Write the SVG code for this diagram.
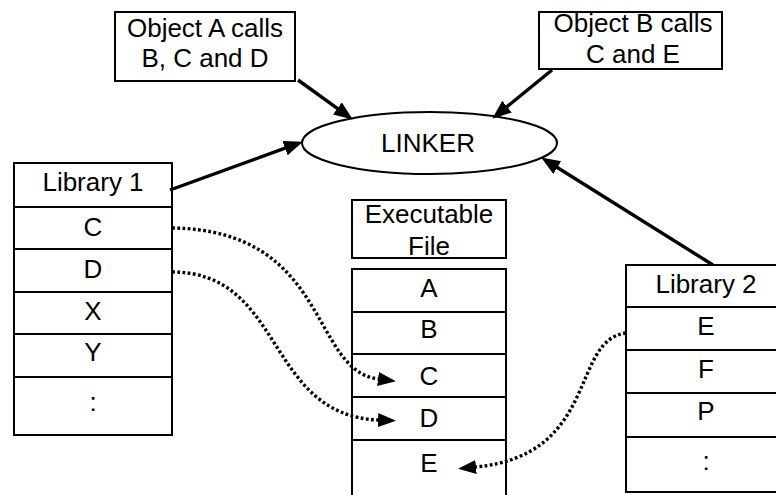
<svg xmlns="http://www.w3.org/2000/svg" width="776" height="495" viewBox="0 0 776 495">
<style>
  .box { fill: #fff; stroke: #000; stroke-width: 2; }
  .t { font-family: "Liberation Sans", Arial, sans-serif; font-size: 26px; fill: #000; text-anchor: middle; }
  .solid { fill: none; stroke: #000; stroke-width: 3.4; }
  .dot { fill: none; stroke: #000; stroke-width: 3.4; stroke-dasharray: 2.8 2.4; }
</style>
<defs>
  <marker id="ah" markerUnits="userSpaceOnUse" markerWidth="22" markerHeight="18" refX="8" refY="7.5" orient="auto">
    <path d="M0,0 L19,7.5 L0,15 z" fill="#000"/>
  </marker>
  <marker id="dh" markerUnits="userSpaceOnUse" markerWidth="20" markerHeight="16" refX="0" refY="7" orient="auto">
    <path d="M0,0 L18,7 L0,14 z" fill="#000"/>
  </marker>
</defs>
<rect width="776" height="495" fill="#fff"/>

<g id="objA">
  <rect class="box" x="115" y="12" width="180" height="69"/>
  <text class="t" x="205" y="37">Object A calls</text>
  <text class="t" x="205" y="67">B, C and D</text>
</g>

<g id="objB">
  <rect class="box" x="539" y="12" width="183" height="57"/>
  <text class="t" x="633" y="32">Object B calls</text>
  <text class="t" x="633" y="63">C and E</text>
</g>

<g id="linker">
  <ellipse class="box" cx="429.5" cy="143" rx="127.5" ry="31"/>
  <text class="t" x="428" y="152">LINKER</text>
</g>

<g id="library1">
  <rect class="box" x="14" y="163" width="158" height="44"/>
  <rect class="box" x="14" y="207" width="158" height="42"/>
  <rect class="box" x="14" y="249" width="158" height="43"/>
  <rect class="box" x="14" y="292" width="158" height="42"/>
  <rect class="box" x="14" y="334" width="158" height="43"/>
  <rect class="box" x="14" y="377" width="158" height="58"/>
  <text class="t" x="93" y="191">Library 1</text>
  <text class="t" x="93" y="236">C</text>
  <text class="t" x="93" y="278">D</text>
  <text class="t" x="93" y="320">X</text>
  <text class="t" x="93" y="361">Y</text>
  <text class="t" x="93" y="411">:</text>
</g>

<g id="exectitle">
  <rect class="box" x="352" y="200" width="154" height="58"/>
  <text class="t" x="429" y="223">Executable</text>
  <text class="t" x="429" y="255">File</text>
</g>

<g id="exec">
  <rect class="box" x="352" y="269" width="154" height="43"/>
  <rect class="box" x="352" y="312" width="154" height="42"/>
  <rect class="box" x="352" y="354" width="154" height="43"/>
  <rect class="box" x="352" y="397" width="154" height="43"/>
  <rect class="box" x="352" y="440" width="154" height="70"/>
  <text class="t" x="429" y="297">A</text>
  <text class="t" x="429" y="338">B</text>
  <text class="t" x="429" y="385">C</text>
  <text class="t" x="429" y="427">D</text>
  <text class="t" x="429" y="472">E</text>
</g>

<g id="library2">
  <rect class="box" x="626" y="265" width="160" height="42"/>
  <rect class="box" x="626" y="307" width="160" height="43"/>
  <rect class="box" x="626" y="350" width="160" height="43"/>
  <rect class="box" x="626" y="393" width="160" height="44"/>
  <rect class="box" x="626" y="437" width="160" height="55"/>
  <text class="t" x="706" y="293">Library 2</text>
  <text class="t" x="706" y="335">E</text>
  <text class="t" x="706" y="378">F</text>
  <text class="t" x="706" y="420">P</text>
  <text class="t" x="706" y="470">:</text>
</g>

<g id="connectors">
  <path class="solid" d="M298,80 L343.9,113.1" marker-end="url(#ah)"/>
  <path class="solid" d="M552,70 L500.8,111.7" marker-end="url(#ah)"/>
  <path class="solid" d="M170,190 L292.6,145.4" marker-end="url(#ah)"/>
  <path class="solid" d="M713,265 L550.5,163.3" marker-end="url(#ah)"/>
  <path class="dot" d="M172,228 C330,230 310,370 378,379" marker-end="url(#dh)"/>
  <path class="dot" d="M172,272 C285,272 265,415 378,420" marker-end="url(#dh)"/>
  <path class="dot" d="M626,333 C570,340 600,455 476,467" marker-end="url(#dh)"/>
</g>
</svg>
